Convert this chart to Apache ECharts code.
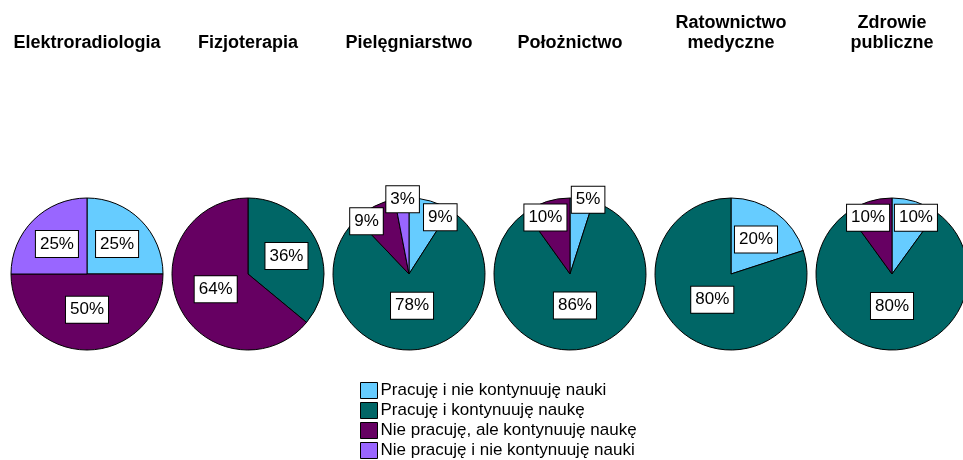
<!DOCTYPE html>
<html>
<head>
<meta charset="utf-8">
<script src="https://cdn.jsdelivr.net/npm/echarts@6/dist/echarts.min.js"></script>
<style>
  html, body { margin: 0; padding: 0; background: #fff; }
  #chart { width: 963px; height: 460px; }
</style>
</head>
<body>
<div id="chart"></div>
<script>
// kierunki studiów (tytuły nad kołami)
const kierunki = ['Elektroradiologia', 'Fizjoterapia', 'Pielęgniarstwo', 'Położnictwo', 'Ratownictwo\nmedyczne', 'Zdrowie\npubliczne']
// kategorie odpowiedzi (legenda)
const kategorie = ['Pracuję i nie kontynuuję nauki', 'Pracuję i kontynuuję naukę', 'Nie pracuję, ale kontynuuję naukę', 'Nie pracuję i nie kontynuuję nauki']
const kolory = ['#66ccff', '#006666', '#660062', '#9966ff']

// wartości w % dla każdej kategorii, kolejno dla kierunków
const pracujeNieKontynuuje = [25, 0, 9, 5, 20, 10]
const pracujeKontynuuje = [0, 36, 78, 86, 80, 80]
const niePracujeKontynuuje = [50, 64, 9, 10, 0, 10]
const niePracujeNieKontynuuje = [25, 0, 3, 0, 0, 0]

const wartosci = [pracujeNieKontynuuje, pracujeKontynuuje, niePracujeKontynuuje, niePracujeNieKontynuuje]

const chart = echarts.init(document.getElementById('chart'))

const srodekY = 274
const krok = 161
const startX = 87
const promien = 76
const fontEtykiety = 17

// jak daleko od środka stoi etykieta (ułamek promienia) - małe wycinki bliżej krawędzi
function odleglosc(p) {
  if (p <= 5) return 0.95
  if (p <= 10) return 0.74
  if (p <= 40) return 0.52
  if (p <= 70) return 0.43
  return 0.38
}

// przesunięcia etykiet względem domyślnego 'inside' (połowa promienia),
// z prostym rozsuwaniem w poziomie gdy ramki na siebie nachodzą
function przesuniecia(data) {
  const suma = data.reduce((a, b) => a + b.value, 0)
  let przed = 0
  const pos = data.map(d => {
    const kat = ((przed + d.value / 2) / suma) * 2 * Math.PI
    przed += d.value
    const r = odleglosc(d.value) * promien
    const szer = String(d.value).length * fontEtykiety * 0.556 + fontEtykiety * 0.889 + 10
    return {
      x0: 0.5 * promien * Math.sin(kat), y0: -0.5 * promien * Math.cos(kat),
      x: r * Math.sin(kat), y: -r * Math.cos(kat), w: szer, h: 26
    }
  })
  for (let it = 0; it < 30; it++) {
    for (let a = 0; a < pos.length; a++) {
      for (let b = a + 1; b < pos.length; b++) {
        const A = pos[a], B = pos[b]
        const nx = (A.w + B.w) / 2 - Math.abs(A.x - B.x)
        const ny = (A.h + B.h) / 2 - Math.abs(A.y - B.y)
        if (nx > 0 && ny > 0) {
          const s = A.x < B.x ? -1 : 1
          A.x += s * (nx / 2 + 1)
          B.x -= s * (nx / 2 + 1)
        }
      }
    }
  }
  return pos.map(p => ({ dx: p.x - p.x0, dy: p.y - p.y0 }))
}

let series = []
let title = []
kierunki.forEach((k, i) => {
  let data = []
  wartosci.forEach((arr, c) => {
    if (arr[i] > 0) {
      data.push({ name: kategorie[c], value: arr[i], itemStyle: { color: kolory[c] } })
    }
  })
  const przes = przesuniecia(data)
  series.push({
    type: 'pie',
    center: [startX + krok * i, srodekY],
    radius: [0, promien],
    startAngle: 90,
    clockwise: true,
    animation: false,
    avoidLabelOverlap: false,
    itemStyle: { borderColor: '#000', borderWidth: 1 },
    emphasis: { disabled: true },
    label: {
      show: true,
      position: 'inside',
      formatter: p => p.value + '%',
      color: '#000',
      fontFamily: 'Liberation Sans',
      fontSize: fontEtykiety,
      lineHeight: 17,
      backgroundColor: '#fff',
      borderColor: '#000',
      borderWidth: 1,
      padding: [5, 4, 4, 4]
    },
    labelLayout: params => przes[params.dataIndex],
    labelLine: { show: false },
    data: data
  })
  title.push({
    text: k,
    left: startX + krok * i,
    bottom: 407,
    textAlign: 'center',
    padding: 0,
    textStyle: {
      fontFamily: 'Liberation Sans',
      fontWeight: 'bold',
      fontSize: 18,
      lineHeight: 20,
      color: '#000'
    }
  })
})

chart.setOption({
  animation: false,
  title: title,
  legend: {
    data: kategorie,
    orient: 'vertical',
    left: 360,
    top: 382,
    bottom: 0,
    itemWidth: 17,
    itemHeight: 16,
    itemGap: 3,
    padding: 0,
    icon: 'rect',
    selectedMode: false,
    itemStyle: { borderColor: '#000', borderWidth: 1 },
    textStyle: { fontFamily: 'Liberation Sans', fontSize: 17, lineHeight: 16, color: '#000', padding: [0, 0, 0, -2] }
  },
  series: series
})
</script>
</body>
</html>
